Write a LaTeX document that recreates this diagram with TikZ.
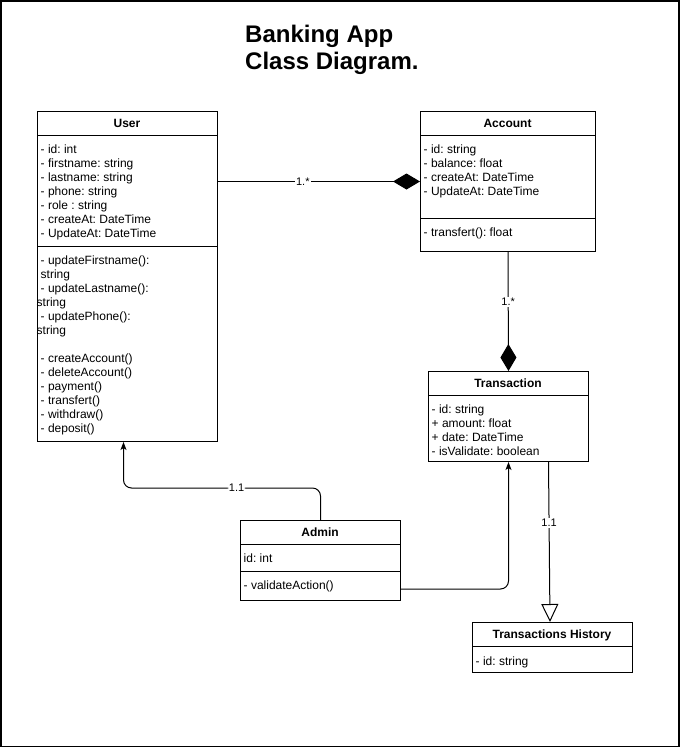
\documentclass[tikz,border=0pt]{standalone}
\usepackage{fontspec}
\setmainfont{Liberation Sans}
\usetikzlibrary{arrows.meta}
\begin{document}
\frenchspacing
\begin{tikzpicture}[x=1pt,y=-1pt,
  classbox/.style={draw=black,line width=1pt,anchor=north west,inner sep=0pt,fill=white},
  hdr/.style={anchor=base,inner sep=0pt,font=\fontsize{12}{14}\selectfont\bfseries},
  body/.style={anchor=north west,inner sep=0pt,align=left,font=\fontsize{12}{14}\selectfont\frenchspacing},
  sep/.style={draw=black,line width=1pt},
  conn/.style={draw=black,line width=1pt},
  compo/.style={conn,-{Diamond[length=27pt,width=16pt,fill=black]}},
  arr/.style={conn,rounded corners=8pt,-{Stealth[length=8pt,width=6pt,inset=2pt]}},
  gen/.style={conn,-{Triangle[open,length=18pt,width=17pt,fill=white]}},
  lbl/.style={fill=white,inner sep=1pt,font=\fontsize{11}{12}\selectfont}
]
\useasboundingbox (0,0) rectangle (680,748);
\draw[line width=1.2pt] (1,1) rectangle (679,746.5);

% title
\node[anchor=north west,inner sep=0pt,align=left,font=\fontsize{24}{27}\selectfont\bfseries\frenchspacing] (title) at (245,25) {Banking App\\Class Diagram.};

% User
\node[classbox,minimum width=180pt,minimum height=330pt] (user) at (37,111) {};
\node[hdr] (userh) at (127,127) {User};
\draw[sep] ([yshift=-24pt]user.north west) -- ([yshift=-24pt]user.north east);
\node[body] (usera) at (40.5,145) {- id: int\\- firstname: string\\- lastname: string\\- phone: string\\- role : string\\- createAt: DateTime\\- UpdateAt: DateTime};
\draw[sep] ([yshift=-135pt]user.north west) -- ([yshift=-135pt]user.north east);
\node[body] (userm) at (40.5,256) {- updateFirstname():\\string\\- updateLastname():\\\hspace*{-4pt}string\\- updatePhone():\\\hspace*{-4pt}string\\[14pt]- createAccount()\\- deleteAccount()\\- payment()\\- transfert()\\- withdraw()\\- deposit()};

% Account
\node[classbox,minimum width=175pt,minimum height=140pt] (acc) at (420,111) {};
\node[hdr] (acch) at (507.5,127) {Account};
\draw[sep] ([yshift=-24pt]acc.north west) -- ([yshift=-24pt]acc.north east);
\node[body] (acca) at (423.5,145) {- id: string\\- balance: float\\- createAt: DateTime\\- UpdateAt: DateTime};
\draw[sep] ([yshift=-107pt]acc.north west) -- ([yshift=-107pt]acc.north east);
\node[body] (accm) at (423.5,228) {- transfert(): float};

% Transaction
\node[classbox,minimum width=160pt,minimum height=90pt] (trans) at (428,371) {};
\node[hdr] (transh) at (508,387) {Transaction};
\draw[sep] ([yshift=-24pt]trans.north west) -- ([yshift=-24pt]trans.north east);
\node[body] (transa) at (431.5,405) {- id: string\\+ amount: float\\+ date: DateTime\\- isValidate: boolean};

% Admin
\node[classbox,minimum width=160pt,minimum height=80pt] (admin) at (240,520) {};
\node[hdr] (adminh) at (320,536) {Admin};
\draw[sep] ([yshift=-24pt]admin.north west) -- ([yshift=-24pt]admin.north east);
\node[body] (admina) at (243.5,554) {id: int};
\draw[sep] ([yshift=-51pt]admin.north west) -- ([yshift=-51pt]admin.north east);
\node[body] (adminm) at (243.5,581) {- validateAction()};

% Transactions History
\node[classbox,minimum width=160pt,minimum height=50pt] (hist) at (472,622) {};
\node[hdr] (histh) at (552,638) {Transactions History};
\draw[sep] ([yshift=-24pt]hist.north west) -- ([yshift=-24pt]hist.north east);
\node[body] (hista) at (475.5,657) {- id: string};

% connectors
\draw[compo] (user.east |- acc.west) -- node[lbl,pos=0.42] {1.*} (acc.west);
\draw[compo] (acc.south) -- node[lbl,pos=0.42] {1.*} (trans.north);
\draw[arr] (admin.north) -- ++(0,-32) -| node[lbl,pos=0.213] {1.1} ([xshift=-4pt]user.south);
\draw[arr] ([yshift=12pt]admin.south east) -| (trans.south);
\draw[gen] ([xshift=40pt]trans.south) -- node[lbl,pos=0.38] {1.1} ([xshift=-2.5pt]hist.north);
\end{tikzpicture}
\end{document}
